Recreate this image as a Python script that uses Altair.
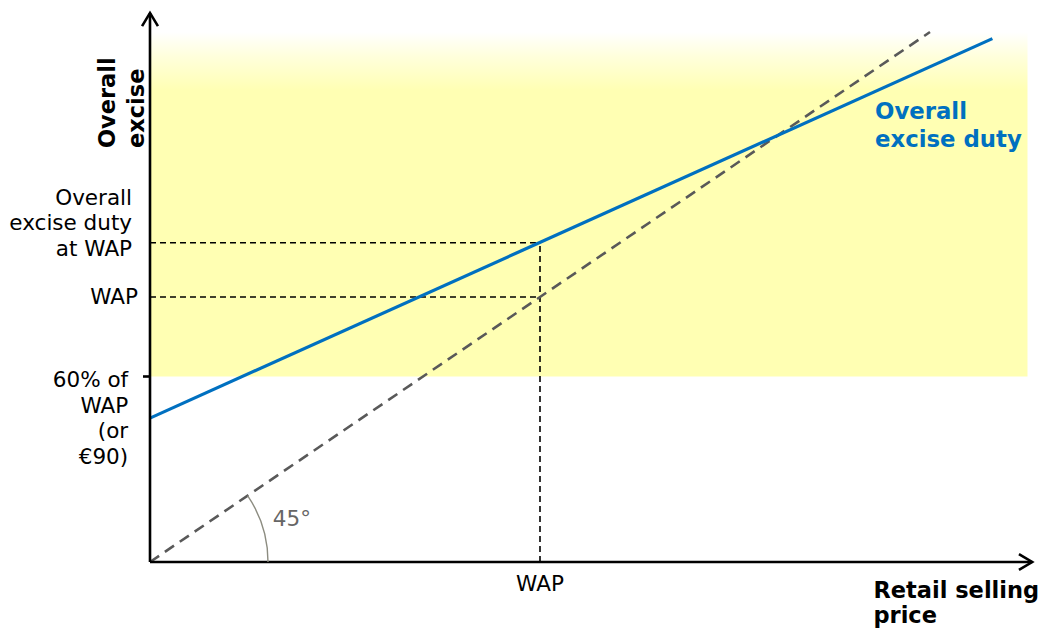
import math
import altair as alt
import pandas as pd

# ---------------- data (conceptual units: WAP = 1 on both axes) ----------------
wap = 1.0
duty_at_wap = 1.205          # overall excise duty when price = WAP
min_level = 0.70             # "60% of WAP (or €90)" marker on the y axis
band_top = 2.0               # top of the yellow band
band_right = 2.25            # right end of the yellow band
x_axis_end = 2.262
y_axis_end = 2.072

diag_x = [0.0, 2.0]          # 45° reference line
diag_y = [0.0, 2.0]
duty_x = [0.0, 2.16]         # overall excise duty line
duty_y = [0.543, 1.975]

ylab_text = ["Overall\nexcise duty\nat WAP", "WAP", "60% of\nWAP\n(or\n€90)"]
ylab_x = [-0.046, -0.031, -0.056]
ylab_y = [1.370, 0.996, 0.682]

# ---------------- layout ----------------
W, H = 1031, 620
FONT = "DejaVu Sans"
X_DOM = [-0.3641, 2.2795]
Y_DOM = [-0.2491, 2.0906]
px_x = W / (X_DOM[1] - X_DOM[0])
px_y = H / (Y_DOM[1] - Y_DOM[0])

xs = alt.Scale(domain=X_DOM, nice=False, zero=False)
ys = alt.Scale(domain=Y_DOM, nice=False, zero=False)


def X(f="x"):
    return alt.X(f"{f}:Q", scale=xs, axis=None)


def Y(f="y"):
    return alt.Y(f"{f}:Q", scale=ys, axis=None)


# yellow band with a fade at its top
grad = alt.LinearGradient(
    gradient="linear",
    stops=[
        alt.GradientStop(offset=0.0, color="#ffffff"),
        alt.GradientStop(offset=0.07, color="#ffffdc"),
        alt.GradientStop(offset=0.17, color="#ffffb3"),
        alt.GradientStop(offset=1.0, color="#ffffb3"),
    ],
    x1=0, x2=0, y1=0, y2=1,
)
band = alt.Chart(pd.DataFrame({"x": [0.0], "x2": [band_right], "y": [min_level], "y2": [band_top]})).mark_rect(
    color=grad
).encode(x=X(), x2="x2:Q", y=Y(), y2="y2:Q")

# black dashed guides
guides_df = pd.DataFrame({
    "x": [0.0, 0.0, wap],
    "x2": [wap, wap, wap],
    "y": [duty_at_wap, wap, 0.0],
    "y2": [duty_at_wap, wap, duty_at_wap],
})
guides = alt.Chart(guides_df).mark_rule(color="#000000", strokeWidth=1.6, strokeDash=[6, 4]).encode(
    x=X(), x2="x2:Q", y=Y(), y2="y2:Q"
)

diag = alt.Chart(pd.DataFrame({"x": diag_x, "y": diag_y})).mark_line(
    color="#595959", strokeWidth=2.6, strokeDash=[11, 7]
).encode(x=X(), y=Y())

duty = alt.Chart(pd.DataFrame({"x": duty_x, "y": duty_y})).mark_line(
    color="#0070c0", strokeWidth=3.2
).encode(x=X(), y=Y())

# axes
axes_df = pd.DataFrame({
    "x": [0.0, 0.0, -0.018],
    "x2": [x_axis_end, 0.0, 0.0],
    "y": [0.0, 0.0, min_level],
    "y2": [0.0, y_axis_end, min_level],
})
axes = alt.Chart(axes_df).mark_rule(color="#000000", strokeWidth=2.6).encode(
    x=X(), x2="x2:Q", y=Y(), y2="y2:Q"
)

arrow_right = alt.Chart(pd.DataFrame({"x": [x_axis_end], "y": [0.0]})).mark_point(
    shape="M -1 -0.6 L 0 0 L -1 0.6", size=700, filled=False, color="#000000",
    strokeWidth=2.6, opacity=1
).encode(x=X(), y=Y())
arrow_up = alt.Chart(pd.DataFrame({"x": [0.0], "y": [y_axis_end]})).mark_point(
    shape="M -0.6 1 L 0 0 L 0.6 1", size=700, filled=False, color="#000000",
    strokeWidth=2.6, opacity=1
).encode(x=X(), y=Y())

# 45° arc at the origin
slope_angle = math.atan((px_y * diag_y[1]) / (px_x * diag_x[1]))
arc = alt.Chart(pd.DataFrame({"x": [0.0], "y": [0.0]})).mark_arc(
    theta=math.pi / 2 - slope_angle, theta2=math.pi / 2, radius=118, radius2=118,
    filled=False, color="#8c8c80", strokeWidth=1.4
).encode(x=X(), y=Y())

# texts
ylabels = alt.Chart(pd.DataFrame({"x": ylab_x, "y": ylab_y, "t": ylab_text})).mark_text(
    align="right", baseline="middle", font=FONT, fontSize=21.5, lineHeight=25.5,
    lineBreak="\n", color="#000000"
).encode(x=X(), y=Y(), text="t:N")

xlabel = alt.Chart(pd.DataFrame({"x": [wap], "y": [-0.087], "t": ["WAP"]})).mark_text(
    align="center", baseline="middle", font=FONT, fontSize=21.5, color="#000000"
).encode(x=X(), y=Y(), text="t:N")

angle_lab = alt.Chart(pd.DataFrame({"x": [0.315], "y": [0.158], "t": ["45°"]})).mark_text(
    align="left", baseline="middle", font=FONT, fontSize=21.5, color="#666666"
).encode(x=X(), y=Y(), text="t:N")

duty_lab = alt.Chart(pd.DataFrame({"x": [1.859], "y": [1.698], "t": ["Overall\nexcise duty"]})).mark_text(
    align="left", baseline="middle", font=FONT, fontSize=22.8, fontWeight="bold",
    lineHeight=28, lineBreak="\n", color="#0070c0"
).encode(x=X(), y=Y(), text="t:N")

x_title = alt.Chart(pd.DataFrame({"x": [1.855], "y": [-0.109], "t": ["Retail selling\nprice"]})).mark_text(
    align="left", baseline="middle", font=FONT, fontSize=22.5, fontWeight="bold",
    lineHeight=25, lineBreak="\n", color="#000000"
).encode(x=X(), y=Y(), text="t:N")

y_title = alt.Chart(pd.DataFrame({"x": [-0.1077], "y": [1.562], "t": ["Overall\nexcise"]})).mark_text(
    align="left", baseline="middle", angle=270, font=FONT, fontSize=22.5, fontWeight="bold",
    lineHeight=29, lineBreak="\n", color="#000000"
).encode(x=X(), y=Y(), text="t:N")

chart = alt.layer(
    band, guides, diag, duty, axes, arrow_right, arrow_up, arc,
    ylabels, xlabel, angle_lab, duty_lab, x_title, y_title
).properties(
    width=W, height=H, padding=0,
    autosize=alt.AutoSizeParams(type="none"),
    background="#ffffff",
).configure_view(strokeWidth=0)

chart.save("out.html", embed_options={"renderer": "svg", "actions": False})
